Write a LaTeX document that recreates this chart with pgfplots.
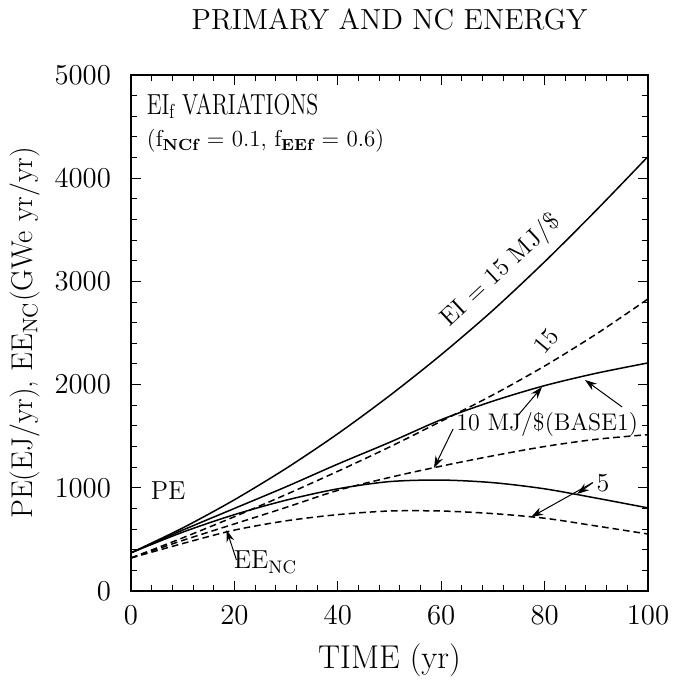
\documentclass[border=0pt]{standalone}
\usepackage{pgfplots}
\pgfplotsset{compat=1.18}
\usetikzlibrary{arrows.meta}

\begin{document}
\begin{tikzpicture}
\begin{axis}[
  name=ax, scale only axis, width=258.5pt, height=258pt,
  xmin=0, xmax=100, ymin=0, ymax=5000,
  xtick={0,20,...,100}, ytick={0,1000,...,5000},
  minor x tick num=4, minor y tick num=4,
  tick align=inside, major tick length=5pt, minor tick length=3pt,
  tick style={black, line width=0.5pt},
  axis line style={line width=0.6pt},
  scaled y ticks=false,
  yticklabel style={/pgf/number format/1000 sep={}, xshift=-6.5pt},
  xticklabel style={yshift=-4pt},
  ticklabel style={font=\fontsize{14}{16}\selectfont},
  xlabel={TIME (yr)},
  ylabel={PE(EJ/yr), EE\textsubscript{NC}(GWe yr/yr)},
  label style={font=\fontsize{15}{17}\selectfont},
  xlabel style={at={(axis description cs:0.5,-0.134)}, anchor=center, font=\fontsize{16.5}{18}\selectfont},
  ylabel style={at={(axis description cs:-0.205,0.5)}, anchor=center},
  title={PRIMARY AND NC ENERGY},
  every axis title shift=0pt,
  title style={font=\fontsize{14.5}{16}\selectfont, at={(axis description cs:0.5,1.108)}, anchor=center},
]
% EI = 15, PE (solid)
\addplot[black, line width=0.75pt, smooth] table {
x y
0 370
10 611
20 884
30 1188
40 1524
50 1892
60 2290
70 2720
80 3190
90 3690
100 4210
};
% EI = 15, EE_NC (dashed)
\addplot[black, line width=0.75pt, smooth, dash pattern=on 3.3pt off 2pt] table {
x y
0 320
10 515
20 720
30 935
40 1160
50 1395
60 1645
70 1900
80 2180
90 2490
100 2830
};
% EI = 10 (BASE1), PE (solid)
\addplot[black, line width=0.75pt, smooth] table {
x y
0 370
10 590
20 800
30 1010
40 1230
50 1440
60 1660
70 1840
80 1990
90 2110
100 2210
};
% EI = 10, EE_NC (dashed)
\addplot[black, line width=0.75pt, smooth, dash pattern=on 3.3pt off 2pt] table {
x y
0 320
10 490
20 650
30 810
40 975
50 1100
60 1210
70 1310
80 1400
90 1470
100 1515
};
% EI = 5, PE (solid)
\addplot[black, line width=0.75pt, smooth] table {
x y
0 370
10 570
20 740
30 880
40 990
50 1060
60 1075
70 1050
80 990
90 900
100 805
};
% EI = 5, EE_NC (dashed)
\addplot[black, line width=0.75pt, smooth, dash pattern=on 3.3pt off 2pt] table {
x y
0 320
10 460
20 590
30 680
40 740
50 775
60 775
70 750
80 705
90 630
100 552
};

% annotations
\node[rotate=43, font=\fontsize{12.5}{14}\selectfont] at (axis cs:71.6,3100) {EI = 15 MJ/\$};
\node[rotate=50, font=\fontsize{12.5}{14}\selectfont] at (axis cs:80.3,2420) {15};
\node[font=\fontsize{12}{14}\selectfont] at (axis cs:80.5,1609) {10 MJ/\$(BASE1)};
\node[font=\fontsize{13}{15}\selectfont] at (axis cs:91.3,1047) {5};
\node[font=\fontsize{13}{15}\selectfont] at (axis cs:7.2,969) {PE};
\node[font=\fontsize{13}{15}\selectfont] at (axis cs:26,280) {EE\textsubscript{NC}};

\draw[-{Stealth[length=6pt,width=4pt]}, line width=0.5pt] (axis cs:20.4,300) -- (axis cs:18.5,591);
\draw[-{Stealth[length=6pt,width=4pt]}, line width=0.5pt] (axis cs:74.9,1705) -- (axis cs:79.5,1977);
\draw[-{Stealth[length=6pt,width=4pt]}, line width=0.5pt] (axis cs:95,1783) -- (axis cs:87.8,2045);
\draw[-{Stealth[length=6pt,width=4pt]}, line width=0.5pt] (axis cs:62.3,1570) -- (axis cs:58.6,1192);
\draw[-{Stealth[length=6pt,width=4pt]}, line width=0.5pt] (axis cs:89.3,1050) -- (axis cs:86.3,940);
\draw[-{Stealth[length=6pt,width=4pt]}, line width=0.5pt] (axis cs:89.3,1050) -- (axis cs:77.4,717);

\node[anchor=north west, inner sep=0pt, font=\fontsize{14.5}{16}\selectfont]
  at ([xshift=7.8pt, yshift=-9pt]rel axis cs:0,1) {\scalebox{0.76}[1]{EI\textsubscript{f} VARIATIONS}};
\node[anchor=west, inner sep=0pt, font=\fontsize{11.5}{14}\selectfont]
  at ([xshift=7.8pt, yshift=-33pt]rel axis cs:0,1)
  {(f\textsubscript{\bfseries NCf} = 0.1, f\textsubscript{\bfseries EEf} = 0.6)};

\node[anchor=south west, inner sep=0pt, font=\sffamily\fontsize{7.5}{9}\selectfont]
  at ([xshift=-2pt, yshift=7pt]rel axis cs:0,1) {13--AUG--9};
\node[anchor=south east, inner sep=0pt, font=\sffamily\fontsize{7.5}{9}\selectfont]
  at ([xshift=1pt, yshift=7pt]rel axis cs:1,1) {Los Alamos};
\end{axis}
\pgfresetboundingbox
\path[use as bounding box] ([shift={(-65.5pt,-46pt)}]ax.south west) rectangle ([shift={(12.5pt,37.5pt)}]ax.north east);
\end{tikzpicture}
\end{document}
